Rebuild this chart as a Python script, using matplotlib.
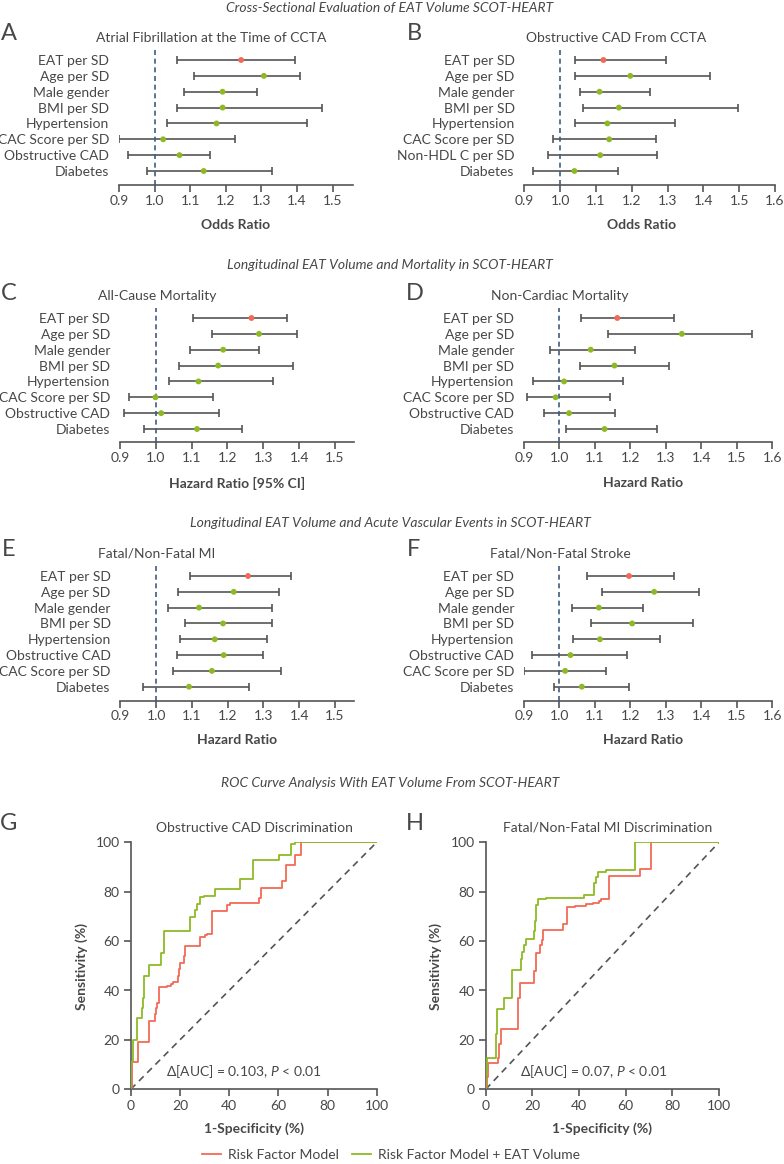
import numpy as np
import matplotlib
matplotlib.use("Agg")
import matplotlib.pyplot as plt

plt.rcParams['font.family'] = ['Lato', 'DejaVu Sans']
plt.rcParams['mathtext.fontset'] = 'custom'
plt.rcParams['mathtext.rm'] = 'Lato'
plt.rcParams['mathtext.it'] = 'Lato:italic'

# ---------------- data ----------------
labels_a = ["EAT per SD", "Age per SD", "Male gender", "BMI per SD", "Hypertension",
            "CAC Score per SD", "Obstructive CAD", "Diabetes"]
pt_a = [1.243, 1.307, 1.191, 1.191, 1.174, 1.024, 1.070, 1.138]
lo_a = [1.062, 1.110, 1.083, 1.062, 1.034, 0.901, 0.924, 0.979]
hi_a = [1.394, 1.408, 1.287, 1.469, 1.428, 1.226, 1.157, 1.330]

labels_b = ["EAT per SD", "Age per SD", "Male gender", "BMI per SD", "Hypertension",
            "CAC Score per SD", "Non-HDL C per SD", "Diabetes"]
pt_b = [1.121, 1.196, 1.110, 1.164, 1.132, 1.137, 1.112, 1.040]
lo_b = [1.042, 1.042, 1.055, 1.065, 1.042, 0.980, 0.966, 0.924]
hi_b = [1.296, 1.419, 1.252, 1.498, 1.322, 1.267, 1.271, 1.161]

labels_c = ["EAT per SD", "Age per SD", "Male gender", "BMI per SD", "Hypertension",
            "CAC Score per SD", "Obstructive CAD", "Diabetes"]
pt_c = [1.267, 1.288, 1.188, 1.174, 1.119, 0.999, 1.015, 1.115]
lo_c = [1.103, 1.156, 1.095, 1.065, 1.038, 0.925, 0.912, 0.967]
hi_c = [1.367, 1.393, 1.288, 1.382, 1.328, 1.159, 1.175, 1.241]

labels_d = labels_c
pt_d = [1.163, 1.345, 1.088, 1.155, 1.013, 0.989, 1.027, 1.127]
lo_d = [1.062, 1.138, 0.973, 1.058, 0.924, 0.908, 0.957, 1.017]
hi_d = [1.324, 1.544, 1.213, 1.308, 1.178, 1.142, 1.157, 1.274]

labels_e = ["EAT per SD", "Age per SD", "Male gender", "BMI per SD", "Hypertension",
            "Obstructive CAD", "CAC Score per SD", "Diabetes"]
pt_e = [1.257, 1.217, 1.120, 1.187, 1.164, 1.189, 1.156, 1.092]
lo_e = [1.094, 1.061, 1.032, 1.082, 1.067, 1.058, 1.048, 0.963]
hi_e = [1.377, 1.344, 1.323, 1.324, 1.309, 1.298, 1.348, 1.260]

labels_f = labels_e
pt_f = [1.196, 1.267, 1.111, 1.205, 1.114, 1.031, 1.016, 1.063]
lo_f = [1.079, 1.120, 1.034, 1.088, 1.038, 0.923, 0.901, 0.985]
hi_f = [1.323, 1.393, 1.236, 1.377, 1.283, 1.189, 1.130, 1.196]

# ROC curves (1-specificity %, sensitivity %)
g_rf_x = [0, 0.6, 3.1, 7.5, 9.9, 10.3, 10.8, 11.4, 14.6, 16.3, 17.3, 19.1, 19.6, 20.2, 21.7, 22.2,
          28.2, 30.2, 31.2, 33.2, 39.0, 40.4, 52.2, 52.8, 61.4, 63.1, 66.7, 69.4, 100]
g_rf_y = [0, 11, 19, 27.8, 30.5, 33, 35, 41.6, 42, 42.5, 43.5, 46, 48.6, 51.3, 54, 58,
          61.7, 62.3, 63, 72.2, 74.8, 75.4, 77.6, 81.4, 84.4, 91, 95, 100, 100]
g_eat_x = [0, 0.3, 1.1, 2.4, 4.7, 5.1, 5.5, 7.3, 12.5, 13.7, 24.1, 26.2, 27.1, 28.3, 29.7,
           34.3, 44.6, 49.9, 60.2, 65.0, 66.8, 100]
g_eat_y = [0, 11.2, 20, 29, 33, 37, 46, 50.4, 55.3, 64.2, 69.6, 72.5, 75, 77.8, 78.4,
           81, 85.3, 92.7, 94.7, 99.3, 100, 100]

h_rf_x = [0, 0.5, 1.0, 5.3, 5.9, 6.4, 14.0, 14.7, 20.7, 21.4, 23.3, 24.0, 24.7, 33.0, 34.7,
          38.3, 43.0, 46.1, 48.4, 49.3, 52.7, 66.1, 70.9, 100]
h_rf_y = [0, 5, 10.5, 12.5, 18.5, 24.5, 37, 43, 48, 55, 58.5, 60.5, 64.3, 67, 73.8,
          74.2, 75, 75.5, 76.3, 77, 86.3, 89, 100, 100]
h_eat_x = [0, 0.2, 0.4, 4.4, 5.0, 7.9, 11.1, 15.1, 15.7, 16.4, 17.1, 20.7, 21.1, 21.7, 22.6,
           25.9, 42.1, 46.6, 47.3, 48.0, 51.6, 63.9, 100]
h_eat_y = [0, 6, 12.5, 22.5, 32.5, 36.8, 48.2, 52.8, 55.5, 58.5, 61, 64, 68, 74.8, 77,
           77.6, 78.5, 83.5, 86, 88, 88.6, 100, 100]

# ---------------- style ----------------
W, H = 784, 1164
TXT = '#474747'
AX = '#555555'
RED = '#f26a55'
GREEN = '#8dba24'
DASH = '#3e5c80'
FS = 10

fig = plt.figure(figsize=(W / 100, H / 100), dpi=100)


def px_axes(left, top, right, bottom):
    return fig.add_axes([left / W, 1 - bottom / H, (right - left) / W, (bottom - top) / H])


def ftext(x, y, s, **kw):
    kw.setdefault('color', TXT)
    kw.setdefault('fontsize', FS)
    kw.setdefault('ha', 'center')
    kw.setdefault('va', 'center')
    fig.text(x / W, 1 - y / H, s, **kw)


def forest(x0, x1, xmax, y0, y7, spine, labels, pt, lo, hi, ticks):
    s = (y7 - y0) / 7
    ybot = (spine - y0) / s
    ytop = -0.65
    ax = px_axes(x0, y0 + ytop * s, x1, spine)
    pt, lo, hi = np.array(pt), np.array(lo), np.array(hi)
    rows = np.arange(len(labels))
    ax.errorbar(pt, rows, xerr=[pt - lo, hi - pt], fmt='none', ecolor=AX,
                elinewidth=1.2, capsize=2.6, capthick=1.2, zorder=2)
    ax.axvline(1.0, color=DASH, ls=(0, (3, 2.2)), lw=1.2, zorder=3)
    ax.scatter(pt, rows, s=18, c=[RED] + [GREEN] * (len(labels) - 1),
               linewidths=0, zorder=4)
    ax.set_xlim(0.9, xmax)
    ax.set_ylim(ybot, ytop)
    ax.set_yticks(rows)
    ax.set_yticklabels(labels)
    ax.set_xticks(ticks)
    ax.set_xticklabels([f"{t:.1f}" for t in ticks])
    for sp in ['top', 'right', 'left']:
        ax.spines[sp].set_visible(False)
    ax.spines['bottom'].set_color(AX)
    ax.spines['bottom'].set_linewidth(1.2)
    ax.tick_params(axis='y', length=0, pad=7, labelsize=FS, labelcolor=TXT)
    ax.tick_params(axis='x', length=5, width=1.2, color=AX, pad=2,
                   labelsize=FS, labelcolor=TXT)
    ax.patch.set_alpha(0)
    return ax


ticks_l = [0.9, 1.0, 1.1, 1.2, 1.3, 1.4, 1.5]
ticks_r = [0.9, 1.0, 1.1, 1.2, 1.3, 1.4, 1.5, 1.6]

forest(119, 352.7, 1.5565, 60, 171, 185.3, labels_a, pt_a, lo_a, hi_a, ticks_l)
forest(524.3, 775, 1.6, 60, 171, 185.3, labels_b, pt_b, lo_b, hi_b, ticks_r)
forest(120, 354.3, 1.554, 318, 429, 442.3, labels_c, pt_c, lo_c, hi_c, ticks_l)
forest(524, 772.3, 1.6, 318, 429, 442.3, labels_d, pt_d, lo_d, hi_d, ticks_r)
forest(120.3, 354.3, 1.554, 576, 686.7, 700.7, labels_e, pt_e, lo_e, hi_e, ticks_l)
forest(524, 772.3, 1.6, 576, 686.7, 700.7, labels_f, pt_f, lo_f, hi_f, ticks_r)


def roc(x0, x1, rx, ry, gx, gy, note):
    ax = px_axes(x0, 842.3, x1, 1089.3)
    ax.plot([0, 100], [0, 100], color=AX, ls=(0, (4, 3)), lw=1.2, zorder=1)
    l1, = ax.plot(rx, ry, drawstyle='steps-post', color=RED, lw=1.3, zorder=2)
    l2, = ax.plot(gx, gy, drawstyle='steps-post', color=GREEN, lw=1.3, zorder=3)
    ax.set_xlim(0, 100)
    ax.set_ylim(0, 100)
    ax.set_xticks(range(0, 101, 20))
    ax.set_yticks(range(0, 101, 20))
    for sp in ['top', 'right']:
        ax.spines[sp].set_visible(False)
    for sp in ['left', 'bottom']:
        ax.spines[sp].set_color(AX)
        ax.spines[sp].set_linewidth(1.2)
    ax.tick_params(length=5, width=1.2, color=AX, pad=3, labelsize=FS, labelcolor=TXT)
    ax.text(14.5, 7, note, fontsize=FS, color=TXT, ha='left', va='center')
    ax.patch.set_alpha(0)
    return l1, l2


l1, l2 = roc(130.7, 376.7, g_rf_x, g_rf_y, g_eat_x, g_eat_y,
             r"$\Delta$[AUC] = 0.103, $\it{P}$ < 0.01")
roc(485.7, 719, h_rf_x, h_rf_y, h_eat_x, h_eat_y,
    r"$\Delta$[AUC] = 0.07, $\it{P}$ < 0.01")

# ---------------- text ----------------
for y, s in [(8, "Cross-Sectional Evaluation of EAT Volume SCOT-HEART"),
             (265, "Longitudinal EAT Volume and Mortality in SCOT-HEART"),
             (522.7, "Longitudinal EAT Volume and Acute Vascular Events in SCOT-HEART"),
             (783, "ROC Curve Analysis With EAT Volume From SCOT-HEART")]:
    ftext(390, y, s, style='italic')

for x, y, s in [(8.5, 33, "A"), (414, 33, "B"), (8.5, 293, "C"), (415, 293, "D"),
                (8.5, 550, "E"), (414, 550, "F"), (9, 823, "G"), (415, 823, "H")]:
    ftext(x, y, s, fontsize=17)

for x, y, s in [(211, 38, "Atrial Fibrillation at the Time of CCTA"),
                (616, 38, "Obstructive CAD From CCTA"),
                (157, 296, "All-Cause Mortality"),
                (560, 296, "Non-Cardiac Mortality"),
                (157, 554, "Fatal/Non-Fatal MI"),
                (560, 554, "Fatal/Non-Fatal Stroke"),
                (254, 828, "Obstructive CAD Discrimination"),
                (608, 828, "Fatal/Non-Fatal MI Discrimination")]:
    ftext(x, y, s)

for x, y, s in [(236, 225, "Odds Ratio"), (642, 225, "Odds Ratio"),
                (237.5, 483, "Hazard Ratio [95% CI]"), (643, 483, "Hazard Ratio"),
                (237.5, 740, "Hazard Ratio"), (643, 740, "Hazard Ratio"),
                (253.7, 1129, "1-Specificity (%)"), (602.3, 1129, "1-Specificity (%)")]:
    ftext(x, y, s, weight='bold')

ftext(82, 966, "Sensitivity (%)", weight='bold', rotation=90)
ftext(435.7, 966, "Sensitivity (%)", weight='bold', rotation=90)

fig.legend([l1, l2], ["Risk Factor Model", "Risk Factor Model + EAT Volume"],
           loc='center', bbox_to_anchor=(391 / W, 1 - 1155 / H), ncol=2, frameon=False,
           fontsize=FS, labelcolor=TXT, handlelength=1.4, handletextpad=0.5,
           columnspacing=0.9, borderpad=0, borderaxespad=0)

fig.savefig("out.png", dpi=100)
